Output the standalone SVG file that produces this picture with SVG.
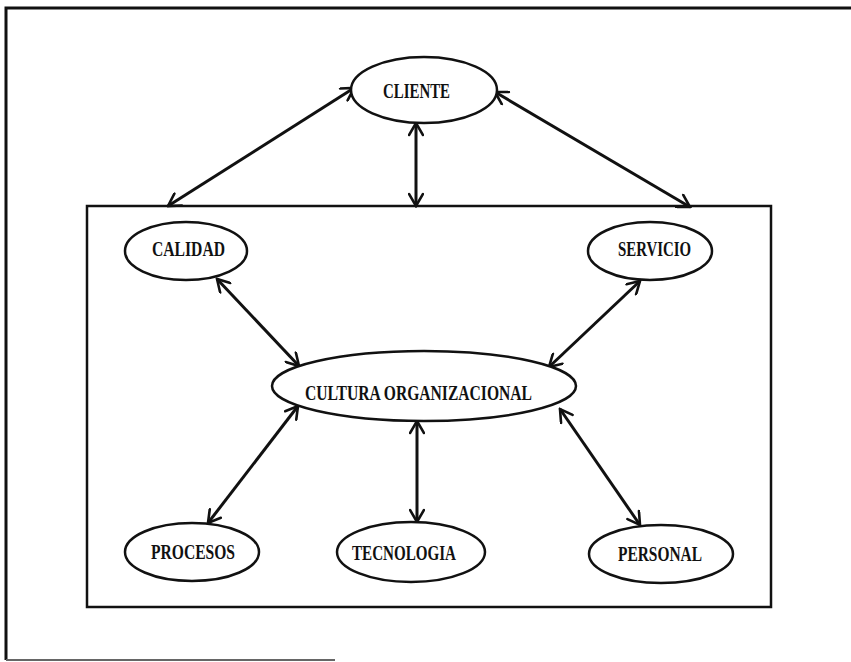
<svg xmlns="http://www.w3.org/2000/svg" width="851" height="662" viewBox="0 0 851 662">
<style>
.frame{fill:none;stroke:#111;stroke-width:3}
.node ellipse{fill:#fff;stroke:#111;stroke-width:2.5}
.node text{font-family:"Liberation Serif","Times New Roman",serif;font-weight:bold;font-size:20px;fill:#111;text-anchor:middle}
.conn line{stroke:#111;stroke-width:3;marker-start:url(#ah);marker-end:url(#ah)}
</style>
<defs>
<marker id="ah" viewBox="-14 -8 16 16" refX="0" refY="0" markerWidth="16" markerHeight="16" markerUnits="userSpaceOnUse" orient="auto-start-reverse">
<path d="M-12,-7 L0,0 L-12,7" fill="none" stroke="#111" stroke-width="2.6" stroke-linecap="round" stroke-linejoin="miter"/>
</marker>
</defs>
<rect width="851" height="662" fill="#fff"/>
<g id="outer-frame">
<path class="frame" d="M6,660 L6,8 L851,8"/>
<line x1="6" y1="660" x2="335" y2="660" stroke="#666" stroke-width="2"/>
</g>
<g id="organizacion">
<rect x="87" y="206" width="684" height="401" fill="none" stroke="#111" stroke-width="2.5"/>
</g>
<g class="conn" id="connectors">
<line x1="354" y1="88" x2="168" y2="206"/>
<line x1="416" y1="123" x2="416" y2="206"/>
<line x1="495" y1="92" x2="690" y2="207"/>
<line x1="217" y1="279" x2="299" y2="366"/>
<line x1="640" y1="281" x2="549" y2="367"/>
<line x1="298" y1="406" x2="208" y2="523"/>
<line x1="417" y1="421" x2="417" y2="522"/>
<line x1="560" y1="409" x2="640" y2="525"/>
</g>
<g class="node" id="cliente">
<ellipse cx="424" cy="90" rx="73" ry="33"/>
<text x="416.5" y="98" textLength="67" lengthAdjust="spacingAndGlyphs">CLIENTE</text>
</g>
<g class="node" id="calidad">
<ellipse cx="186" cy="251" rx="61" ry="29"/>
<text x="188.5" y="256" textLength="73" lengthAdjust="spacingAndGlyphs">CALIDAD</text>
</g>
<g class="node" id="servicio">
<ellipse cx="650" cy="251" rx="62" ry="29"/>
<text x="654.5" y="256" textLength="73" lengthAdjust="spacingAndGlyphs">SERVICIO</text>
</g>
<g class="node" id="cultura">
<ellipse cx="424" cy="386" rx="152" ry="35"/>
<text x="418.5" y="400" textLength="227" lengthAdjust="spacingAndGlyphs">CULTURA ORGANIZACIONAL</text>
</g>
<g class="node" id="procesos">
<ellipse cx="192" cy="552" rx="67" ry="29"/>
<text x="193" y="559" textLength="84" lengthAdjust="spacingAndGlyphs">PROCESOS</text>
</g>
<g class="node" id="tecnologia">
<ellipse cx="411" cy="552" rx="74" ry="30"/>
<text x="404" y="560" textLength="104" lengthAdjust="spacingAndGlyphs">TECNOLOGIA</text>
</g>
<g class="node" id="personal">
<ellipse cx="661" cy="554" rx="72" ry="29"/>
<text x="660" y="561" textLength="84" lengthAdjust="spacingAndGlyphs">PERSONAL</text>
</g>
</svg>
